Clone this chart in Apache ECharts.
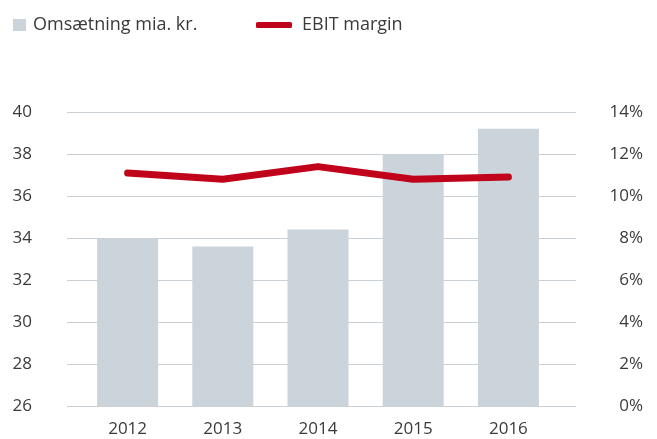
<!DOCTYPE html>
<html>
<head>
<meta charset="utf-8">
<script src="https://cdn.jsdelivr.net/npm/echarts@6/dist/echarts.min.js"></script>
<style>html,body{margin:0;padding:0;background:#fff;}#c{width:657px;height:439px;}</style>
</head>
<body>
<div id="c"></div>
<script>
const categories = ['2012', '2013', '2014', '2015', '2016'];
const revenue = [34.0, 33.6, 34.4, 38.0, 39.2];
const ebitMargin = [11.1, 10.8, 11.4, 10.8, 10.9];
const leftTicks = { min: 26, max: 40, interval: 2 };
const rightTicks = { min: 0, max: 14, interval: 2 };

const font = '"Open Sans", "Noto Sans", sans-serif';
const textColor = '#3a3a3a';
const gridColor = '#c9d1d7';

const chart = echarts.init(document.getElementById('c'), null, { renderer: 'canvas' });
chart.setOption({
  animation: false,
  textStyle: { fontFamily: font },
  legend: [
    {
      data: [{ name: 'Omsætning mia. kr.', icon: 'rect' }],
      left: 8, top: 11,
      itemWidth: 13, itemHeight: 12,
      textStyle: { fontFamily: font, fontSize: 18, color: textColor, padding: [0, 0, 0, 2] }
    },
    {
      data: [{ name: 'EBIT margin', icon: 'roundRect' }],
      left: 251, top: 11,
      itemWidth: 36, itemHeight: 6,
      textStyle: { fontFamily: font, fontSize: 18, color: textColor, padding: [0, 0, 0, 5] }
    }
  ],
  grid: [
    { left: 67, right: 81, top: 112, bottom: 33 },
    { left: 80, right: 101, top: 112, bottom: 33 }
  ],
  xAxis: [
    {
      gridIndex: 0, type: 'category', data: categories,
      axisLine: { show: false }, axisTick: { show: false }, axisLabel: { show: false }
    },
    {
      gridIndex: 1, type: 'category', data: categories,
      axisLine: { show: false }, axisTick: { show: false },
      axisLabel: { fontFamily: font, fontSize: 17, color: textColor, margin: 15 }
    }
  ],
  yAxis: [
    {
      gridIndex: 0, type: 'value', min: leftTicks.min, max: leftTicks.max, interval: leftTicks.interval,
      axisLine: { show: false }, axisTick: { show: false },
      axisLabel: { fontFamily: font, fontSize: 17, color: textColor, margin: 35 },
      splitLine: { show: true, lineStyle: { color: gridColor, width: 1 } }
    },
    {
      gridIndex: 0, type: 'value', min: rightTicks.min, max: rightTicks.max, interval: rightTicks.interval,
      position: 'right',
      axisLine: { show: false }, axisTick: { show: false },
      axisLabel: { fontFamily: font, fontSize: 17, color: textColor, margin: 67, align: 'right',
        formatter: v => v + '%' },
      splitLine: { show: false }
    },
    {
      gridIndex: 1, type: 'value', min: leftTicks.min, max: leftTicks.max, interval: leftTicks.interval,
      show: false
    },
    {
      gridIndex: 1, type: 'value', min: rightTicks.min, max: rightTicks.max, interval: rightTicks.interval,
      show: false
    }
  ],
  series: [
    {
      name: 'Omsætning mia. kr.', type: 'bar', xAxisIndex: 1, yAxisIndex: 2,
      data: revenue, barWidth: 61,
      itemStyle: { color: '#cbd4da' }
    },
    {
      name: 'EBIT margin', type: 'line', xAxisIndex: 1, yAxisIndex: 3,
      data: ebitMargin, symbol: 'none',
      lineStyle: { color: '#c0021b', width: 7, cap: 'round', join: 'round' },
      itemStyle: { color: '#c0021b' }
    }
  ]
});
</script>
</body>
</html>
